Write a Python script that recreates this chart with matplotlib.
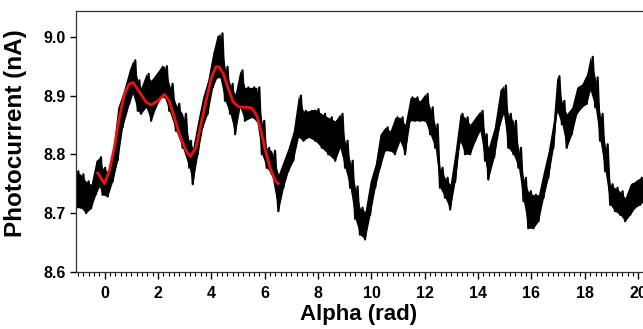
import matplotlib
matplotlib.use('Agg')
import matplotlib.pyplot as plt
import numpy as np
from matplotlib.ticker import MultipleLocator

# measured trace: angle and the lower/upper edge of the noisy band
alpha = [-1.08, -0.90, -0.70, -0.51, -0.33, -0.20, -0.08, 0.11, 0.30, 0.49,
         0.67, 0.92, 1.05, 1.24, 1.36, 1.55, 1.74, 1.92, 2.11, 2.24,
         2.42, 2.67, 2.92, 3.17, 3.30, 3.49, 3.67, 3.86, 4.05, 4.20,
         4.32, 4.51, 4.70, 4.89, 5.07, 5.26, 5.51, 5.70, 5.89, 6.07,
         6.26, 6.51, 6.70, 6.88, 7.07, 7.26, 7.45, 7.63, 7.89, 8.14,
         8.38, 8.64, 8.82, 9.01, 9.20, 9.39, 9.57, 9.76, 9.95, 10.14,
         10.32, 10.51, 10.70, 10.88, 11.07, 11.26, 11.45, 11.63, 11.82, 12.01,
         12.20, 12.39, 12.57, 12.76, 12.95, 13.14, 13.32, 13.51, 13.70, 13.89,
         14.07, 14.26, 14.38, 14.60, 14.82, 14.95, 15.13, 15.32, 15.51, 15.70,
         15.88, 16.07, 16.26, 16.45, 16.63, 16.82, 16.95, 17.14, 17.32, 17.51,
         17.70, 17.89, 18.07, 18.20, 18.39, 18.57, 18.76, 18.95, 19.13, 19.32,
         19.51, 19.70, 19.88, 20.07, 20.20]
current_lo = [8.709, 8.709, 8.700, 8.708, 8.732, 8.745, 8.731, 8.728, 8.754, 8.790,
              8.846, 8.886, 8.903, 8.874, 8.869, 8.880, 8.857, 8.880, 8.897, 8.897,
              8.874, 8.840, 8.811, 8.777, 8.749, 8.800, 8.846, 8.869, 8.914, 8.930,
              8.931, 8.891, 8.869, 8.834, 8.880, 8.857, 8.863, 8.857, 8.800, 8.777,
              8.766, 8.703, 8.743, 8.771, 8.789, 8.829, 8.823, 8.829, 8.823, 8.811,
              8.800, 8.789, 8.811, 8.777, 8.743, 8.690, 8.663, 8.655, 8.697, 8.743,
              8.777, 8.806, 8.806, 8.800, 8.823, 8.800, 8.857, 8.857, 8.857, 8.857,
              8.834, 8.811, 8.743, 8.726, 8.706, 8.754, 8.823, 8.800, 8.800, 8.823,
              8.840, 8.789, 8.757, 8.795, 8.851, 8.869, 8.811, 8.800, 8.777, 8.720,
              8.674, 8.674, 8.686, 8.726, 8.760, 8.811, 8.874, 8.851, 8.811, 8.834,
              8.869, 8.880, 8.886, 8.909, 8.880, 8.823, 8.771, 8.714, 8.703, 8.697,
              8.686, 8.697, 8.709, 8.714, 8.720]
current_hi = [8.771, 8.766, 8.754, 8.749, 8.788, 8.795, 8.777, 8.771, 8.806, 8.880,
              8.903, 8.943, 8.960, 8.926, 8.914, 8.937, 8.926, 8.937, 8.949, 8.950,
              8.920, 8.886, 8.869, 8.823, 8.811, 8.857, 8.897, 8.926, 8.972, 9.000,
              9.006, 8.949, 8.920, 8.903, 8.943, 8.914, 8.914, 8.914, 8.857, 8.811,
              8.806, 8.766, 8.789, 8.811, 8.840, 8.900, 8.874, 8.874, 8.877, 8.869,
              8.863, 8.857, 8.869, 8.823, 8.789, 8.745, 8.709, 8.703, 8.754, 8.783,
              8.834, 8.846, 8.840, 8.863, 8.863, 8.851, 8.897, 8.897, 8.891, 8.903,
              8.880, 8.851, 8.777, 8.760, 8.749, 8.806, 8.869, 8.863, 8.851, 8.863,
              8.874, 8.834, 8.811, 8.845, 8.909, 8.917, 8.869, 8.857, 8.811, 8.760,
              8.737, 8.731, 8.731, 8.771, 8.806, 8.857, 8.933, 8.891, 8.869, 8.880,
              8.914, 8.920, 8.937, 8.966, 8.931, 8.869, 8.817, 8.749, 8.743, 8.737,
              8.726, 8.749, 8.754, 8.760, 8.750]

# fitted curve (red)
fit_alpha = [-0.26, -0.01, 0.17, 0.36, 0.55, 0.74, 0.92, 1.07, 1.30, 1.55,
             1.74, 1.99, 2.24, 2.42, 2.61, 2.80, 3.05, 3.21, 3.42, 3.61,
             3.80, 3.99, 4.17, 4.29, 4.45, 4.64, 4.82, 5.01, 5.26, 5.51,
             5.70, 5.86, 6.01, 6.20, 6.39, 6.51]
fit_current = [8.768, 8.750, 8.771, 8.811, 8.863, 8.903, 8.920, 8.922, 8.906, 8.889,
               8.884, 8.891, 8.902, 8.891, 8.863, 8.834, 8.806, 8.796, 8.811, 8.851,
               8.891, 8.929, 8.949, 8.949, 8.937, 8.911, 8.889, 8.881, 8.880, 8.879,
               8.866, 8.840, 8.809, 8.777, 8.755, 8.750]

plt.rcParams['font.family'] = ['Liberation Sans', 'DejaVu Sans']
plt.rcParams['font.weight'] = 'bold'

fig = plt.figure(figsize=(6.43, 3.29), dpi=100)
ax = fig.add_axes([0.1182, 0.1742, 0.8818, 0.7933])

# noisy trace drawn as a zigzag between the band edges
a = np.array(alpha)
step = np.diff(a, append=a[-1] + 0.13)
xs = np.column_stack([a, a + step / 2]).ravel()
ys = np.column_stack([current_lo, current_hi]).ravel()
ax.fill_between(alpha, current_lo, current_hi, color='black', linewidth=0)
ax.plot(xs, ys, color='black', linewidth=1.6)
ax.plot(fit_alpha, fit_current, color='#ee1111', linewidth=2.0)

ax.set_xlim(-1.076, 20.18)
ax.set_ylim(8.6, 9.0446)
ax.xaxis.set_major_locator(MultipleLocator(2))
ax.xaxis.set_minor_locator(MultipleLocator(0.2))
ax.yaxis.set_major_locator(MultipleLocator(0.1))
ax.yaxis.set_major_formatter(plt.FormatStrFormatter('%.1f'))

for side in ['left', 'top', 'bottom']:
    ax.spines[side].set_linewidth(0.9)
    ax.spines[side].set_color('#333333')
ax.spines['right'].set_visible(False)
ax.tick_params(axis='x', which='major', direction='out', length=5, width=1, labelsize=11.5, pad=5)
ax.tick_params(axis='x', which='minor', direction='out', length=3, width=0.8)
ax.tick_params(axis='y', which='major', direction='out', length=4, width=1, labelsize=11.5)
for lab in ax.get_xticklabels() + ax.get_yticklabels():
    lab.set_fontweight('bold')

ax.set_xlabel('Alpha (rad)', fontsize=16, fontweight='bold')
ax.set_ylabel('Photocurrent (nA)', fontsize=17.5, fontweight='bold')
ax.xaxis.set_label_coords(0.499, -0.125)
ax.yaxis.set_label_coords(-0.086, 0.53)

fig.savefig('out.png', dpi=100)
